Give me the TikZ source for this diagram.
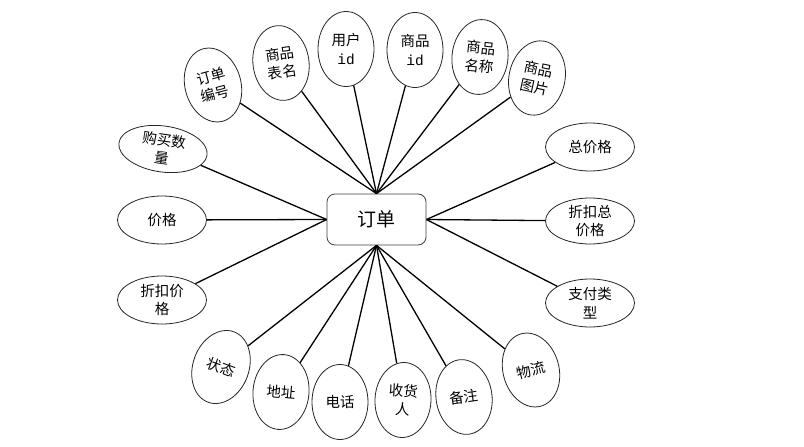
\documentclass[tikz,border=0pt]{standalone}
\usepackage{fontspec}
\setmainfont{Noto Sans CJK SC}
\newfontfamily\cjk{Noto Sans CJK SC}
\newfontfamily\monoid{Liberation Mono}
\usetikzlibrary{shapes.geometric}
\tikzset{
  attr/.style={ellipse, draw=black!85, line width=0.8pt, fill=white, inner sep=0pt,
    align=center, font=\cjk\fontsize{14.5}{18.5}\selectfont},
  vattr/.style={attr, minimum width=56pt, minimum height=75pt},
  hattr/.style={attr, minimum width=89pt, minimum height=48pt},
  entbox/.style={draw=black!75, line width=0.8pt, rounded corners=8pt, fill=white,
    minimum width=99pt, minimum height=51pt, font=\cjk\fontsize{19}{21}\selectfont},
  link/.style={line width=1.3pt, black}
}
\begin{document}
\begin{tikzpicture}[x=1pt,y=-1pt]
\useasboundingbox (0,0) rectangle (804,447);
\node[entbox] (box) at (376.5,219.5) {订单};
% top
\node[vattr, rotate=15] (e1) at (213,85) {订单\\编号};
\node[vattr, rotate=8] (e2) at (281,63) {商品\\表名};
\node[vattr] (e3) at (346,49) {用户\\{\monoid id}};
\node[vattr] (e4) at (415,50) {商品\\{\monoid id}};
\node[vattr, rotate=-6] (e5) at (480,57) {商品\\名称};
\node[vattr, rotate=-12] (e6) at (537,78) {商品\\图片};
% left
\node[hattr, minimum height=46pt, rotate=-8] (e7) at (163,149) {购买数\\量};
\node[hattr] (e8) at (162,220) {价格};
\node[hattr] (e9) at (162,300) {折扣价\\格};
% bottom
\node[vattr, rotate=-20] (e10) at (221,367) {状态};
\node[vattr, rotate=-5] (e11) at (281,392) {地址};
\node[vattr] (e12) at (340,402) {电话};
\node[vattr, rotate=-3] (e13) at (403,400) {收货\\人};
\node[vattr, rotate=8] (e14) at (464,397) {备注};
\node[vattr, rotate=15] (e15) at (531,370) {物流};
% right
\node[hattr] (e16) at (590,147) {总价格};
\node[hattr, minimum height=46pt] (e17) at (590,221) {折扣总\\价格};
\node[hattr] (e18) at (590,303) {支付类\\型};
% links
\foreach \n in {e1,e2,e3,e4,e5,e6} \draw[link] (box.north) -- (\n);
\foreach \n in {e7,e8,e9} \draw[link] (box.west) -- (\n);
\foreach \n in {e10,e11,e12,e13,e14,e15} \draw[link] (box.south) -- (\n);
\foreach \n in {e16,e17,e18} \draw[link] (box.east) -- (\n);
\end{tikzpicture}
\end{document}
